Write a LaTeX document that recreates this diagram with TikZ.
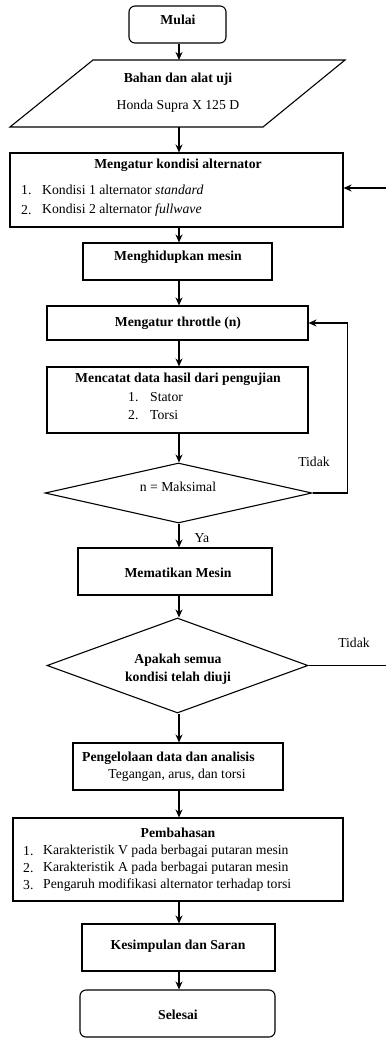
\documentclass[tikz,border=0pt]{standalone}
\usepackage{fontspec}
\setmainfont{Liberation Serif}
\usetikzlibrary{shapes.geometric,arrows.meta}
\begin{document}
\begin{tikzpicture}[x=1pt,y=-1pt,
  box/.style={draw, line width=1.1pt, inner sep=0pt, fill=white},
  rbox/.style={box, rounded corners=6pt},
  dia/.style={draw, diamond, line width=1.1pt, inner sep=0pt},
  arr/.style={-{Stealth[length=8pt,width=7pt]}, line width=1.1pt},
  ln/.style={line width=1.1pt},
  tb/.style={inner sep=0pt, font=\fontsize{13.7}{15}\selectfont\bfseries},
  tr/.style={inner sep=0pt, font=\fontsize{13.7}{15}\selectfont},
  tl/.style={tr, anchor=west},
]
\useasboundingbox (0,0) rectangle (386,1041);
\coordinate (ax) at (179,0);

% Mulai
\node[rbox, minimum width=97pt, minimum height=37pt] (mulai) at (177.5,24.5) {};
\node[tb] (mulaiT) at (178,20) {Mulai};

% Parallelogram
\coordinate (pTL) at (93,60);
\coordinate (pTR) at (345,60);
\coordinate (pBR) at (263,127);
\coordinate (pBL) at (10,127);
\draw[ln] (pTL) -- (pTR) -- (pBR) -- (pBL) -- cycle;
\coordinate (pTop) at (179,60);
\coordinate (pBot) at (179,127);
\node[tb] (parT1) at (178,79) {Bahan dan alat uji};
\node[tr] (parT2) at (178,106) {Honda Supra X 125 D};

% Alternator
\node[box, minimum width=333pt, minimum height=74pt] (alt) at (176.5,190) {};
\node[tb] (altT) at (178,165) {Mengatur kondisi alternator};
\node[tl] (altN1) at (21,190) {1.};
\node[tl] (altI1) at (42,190) {Kondisi 1 alternator \textit{standard}};
\node[tl] (altN2) at (21,210) {2.};
\node[tl] (altI2) at (42,210) {Kondisi 2 alternator \textit{fullwave}};

% Menghidupkan
\node[box, minimum width=189pt, minimum height=37pt] (hidup) at (177.5,261.5) {};
\node[tb] (hidupT) at (178,257) {Menghidupkan mesin};

% Throttle
\node[box, minimum width=261pt, minimum height=34pt] (thr) at (177.5,323) {};
\node[tb] (thrT) at (178,323) {Mengatur throttle (n)};

% Mencatat
\node[box, minimum width=261pt, minimum height=66pt] (cat) at (177.5,400) {};
\node[tb] (catT) at (178,379) {Mencatat data hasil dari pengujian};
\node[tl] (catN1) at (128,397) {1.};
\node[tl] (catI1) at (150,397) {Stator};
\node[tl] (catN2) at (128,415) {2.};
\node[tl] (catI2) at (150,415) {Torsi};

% Diamond 1
\node[dia, minimum width=267pt, minimum height=60pt] (d1) at (178.5,493) {};
\node[tr] (d1T) at (178,487) {n = Maksimal};
\node[tr] (tidak1) at (314,462) {Tidak};
\node[tr] (ya) at (202,538) {Ya};

% Mematikan
\node[box, minimum width=194pt, minimum height=47pt] (mati) at (175,571.5) {};
\node[tb] (matiT) at (178,573) {Mematikan Mesin};

% Diamond 2
\node[dia, minimum width=261pt, minimum height=95pt] (d2) at (177.5,665.5) {};
\node[tb] (d2T1) at (178,660) {Apakah semua};
\node[tb] (d2T2) at (178,678) {kondisi telah diuji};
\node[tr] (tidak2) at (354,643) {Tidak};

% Pengelolaan
\node[box, minimum width=210pt, minimum height=47pt] (olah) at (178,766.5) {};
\node[tb, anchor=west] (olahT1) at (82,758) {Pengelolaan data dan analisis};
\node[tr] (olahT2) at (177,775) {Tegangan, arus, dan torsi};

% Pembahasan
\node[box, minimum width=330pt, minimum height=83pt] (bahas) at (178,859.5) {};
\node[tb] (bahasT) at (178,833) {Pembahasan};
\node[tl] (bN1) at (23,851) {1.};
\node[tl] (bI1) at (43,851) {Karakteristik V pada berbagai putaran mesin};
\node[tl] (bN2) at (23,868) {2.};
\node[tl] (bI2) at (43,868) {Karakteristik A pada berbagai putaran mesin};
\node[tl] (bN3) at (23,885) {3.};
\node[tl] (bI3) at (43,885) {Pengaruh modifikasi alternator terhadap torsi};

% Kesimpulan
\node[box, minimum width=193pt, minimum height=47pt] (simp) at (178.5,947.5) {};
\node[tb] (simpT) at (178,946) {Kesimpulan dan Saran};

% Selesai
\node[rbox, minimum width=195pt, minimum height=47pt] (sel) at (177.5,1013.5) {};
\node[tb] (selT) at (178,1015) {Selesai};

% Connectors
\draw[arr] (mulai.south -| ax) -- (pTop);
\draw[arr] (pBot) -- (alt.north -| ax);
\draw[arr] (alt.south -| ax) -- (hidup.north -| ax);
\draw[arr] (hidup.south -| ax) -- (thr.north -| ax);
\draw[arr] (thr.south -| ax) -- (cat.north -| ax);
\draw[arr] (cat.south -| ax) -- (d1.north -| ax);
\draw[arr] (d1.south -| ax) -- (mati.north -| ax);
\draw[arr] (mati.south -| ax) -- (d2.north -| ax);
\draw[arr] (d2.south -| ax) -- (olah.north -| ax);
\draw[arr] (olah.south -| ax) -- (bahas.north -| ax);
\draw[arr] (bahas.south -| ax) -- (simp.north -| ax);
\draw[arr] (simp.south -| ax) -- (sel.north -| ax);
\draw[arr] (d1.east) -- ++(35,0) |- (thr.east);
\coordinate (rEnd) at (386,665.5);
\coordinate (rStart) at (386,188);
\draw[ln] (d2.east) -- (rEnd);
\draw[arr] (rStart) -- (alt.east |- rStart);
\end{tikzpicture}
\end{document}
